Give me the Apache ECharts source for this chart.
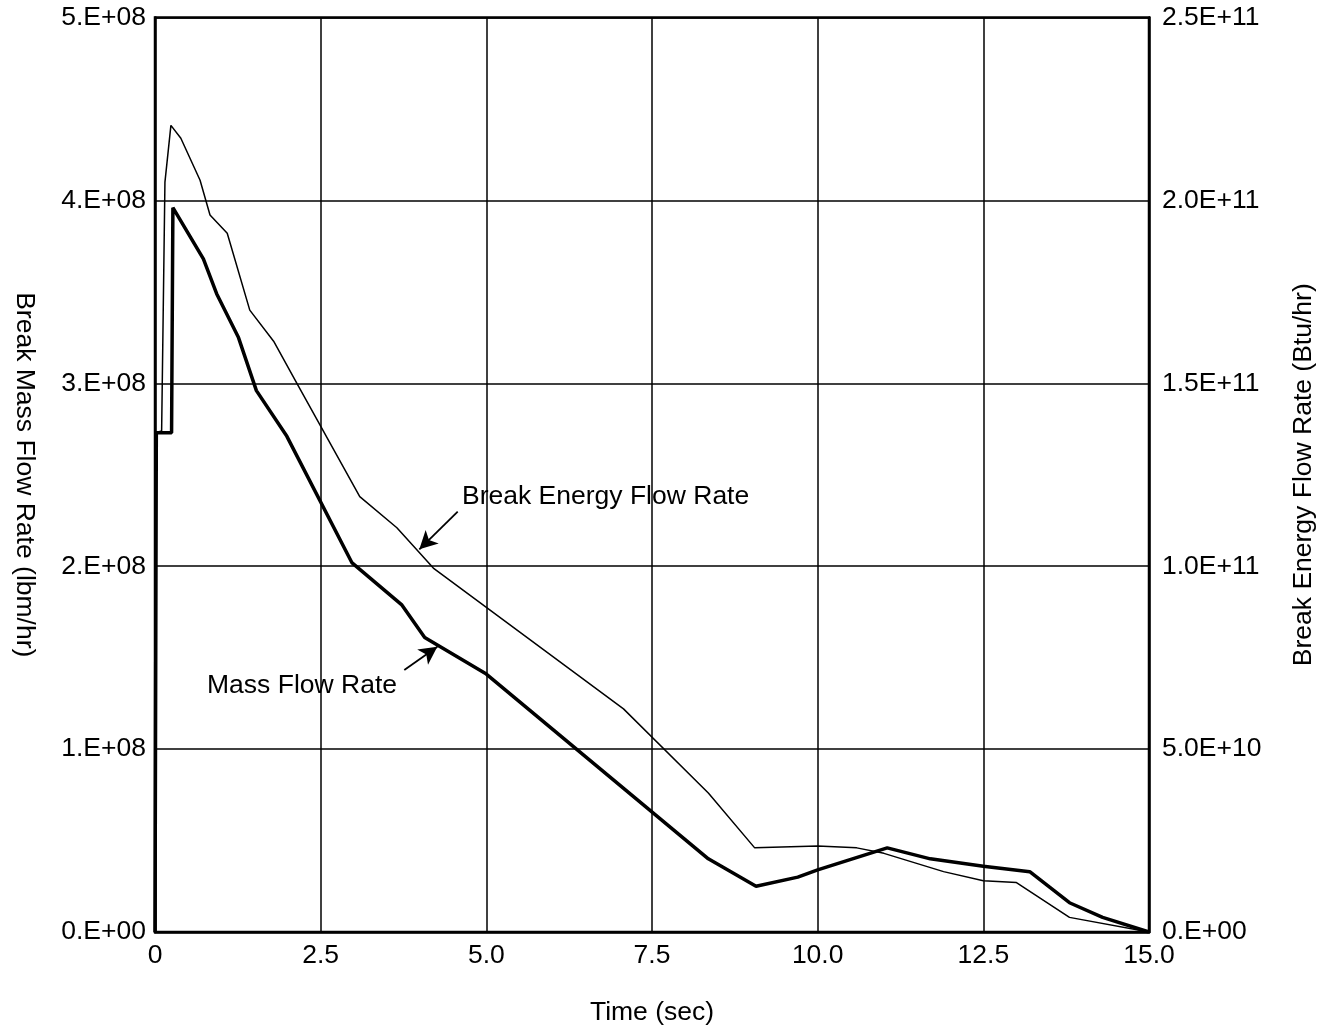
<!DOCTYPE html>
<html>
<head>
<meta charset="utf-8">
<script src="https://cdn.jsdelivr.net/npm/echarts@6/dist/echarts.min.js"></script>
<style>html,body{margin:0;padding:0;background:#fff;}#c{width:1334px;height:1036px;}</style>
</head>
<body>
<div id="c"></div>
<script>
// Time (sec) and Break Mass Flow Rate (lbm/hr)
const massTime = [0, 0.02, 0.25, 0.27, 0.73, 0.93, 1.26, 1.53, 1.99, 2.97, 3.72, 4.07, 5.0, 8.35, 9.07, 9.7, 10.0, 11.05, 11.7, 12.5, 13.2, 13.8, 14.3, 15.0];
const massFlow = [0, 2.73e8, 2.73e8, 3.96e8, 3.68e8, 3.49e8, 3.25e8, 2.96e8, 2.71e8, 2.02e8, 1.79e8, 1.61e8, 1.41e8, 0.40e8, 0.25e8, 0.30e8, 0.34e8, 0.46e8, 0.40e8, 0.36e8, 0.33e8, 0.16e8, 0.08e8, 0];
// Time (sec) and Break Energy Flow Rate (Btu/hr)
const energyTime = [0, 0.01, 0.1, 0.15, 0.24, 0.39, 0.68, 0.83, 1.09, 1.43, 1.79, 2.11, 3.09, 3.65, 4.2, 7.07, 8.35, 9.05, 10.0, 10.59, 11.0, 11.9, 12.5, 13.0, 13.8, 15.0];
const energyFlow = [0, 1.365e11, 1.37e11, 2.05e11, 2.205e11, 2.17e11, 2.055e11, 1.96e11, 1.91e11, 1.70e11, 1.615e11, 1.51e11, 1.19e11, 1.105e11, 0.995e11, 0.61e11, 0.38e11, 0.23e11, 0.235e11, 0.23e11, 0.215e11, 0.165e11, 0.14e11, 0.135e11, 0.04e11, 0];
// Annotations (data coordinates on the mass axis)
const annotations = [
  {text: 'Break Energy Flow Rate', at: [4.633, 2.381e8], from: [4.568, 2.298e8], to: [3.989, 2.092e8]},
  {text: 'Mass Flow Rate', at: [0.785, 1.345e8], from: [3.762, 1.432e8], to: [4.26, 1.56e8]}
];

const FONT = "'Liberation Sans', Arial, sans-serif";
const FS = 26.5;

function leftFmt(v) {
  if (v === 0) return '0.E+00';
  return Math.round(v / 1e8) + '.E+08';
}
function rightFmt(v) {
  if (v === 0) return '0.E+00';
  const e = Math.floor(Math.log10(v) + 1e-9);
  const m = v / Math.pow(10, e);
  return m.toFixed(1) + 'E+' + (e < 10 ? '0' + e : e);
}

const chart = echarts.init(document.getElementById('c'), null, {renderer: 'canvas'});
const option = {
  backgroundColor: '#fff',
  animation: false,
  textStyle: {fontFamily: FONT},
  grid: {left: 155, right: 185, top: 17.5, bottom: 104, show: true, borderColor: '#000', borderWidth: 2.5, containLabel: false},
  xAxis: {
    type: 'value', min: 0, max: 15, interval: 2.5,
    name: 'Time (sec)', nameLocation: 'middle', nameGap: 67,
    nameTextStyle: {fontFamily: FONT, fontSize: FS, color: '#000'},
    axisLine: {show: true, lineStyle: {color: '#000', width: 2.5}},
    axisTick: {show: false},
    axisLabel: {fontFamily: FONT, fontSize: FS, color: '#000', margin: 10,
      formatter: v => v === 0 ? '0' : v.toFixed(1)},
    splitLine: {show: true, lineStyle: {color: '#000', width: 1.5}}
  },
  yAxis: [{
    type: 'value', min: 0, max: 5e8, interval: 1e8, position: 'left',
    name: 'Break Mass Flow Rate (lbm/hr)', nameLocation: 'middle', nameGap: 117, nameRotate: -90,
    nameTextStyle: {fontFamily: FONT, fontSize: FS, color: '#000'},
    axisLine: {show: true, lineStyle: {color: '#000', width: 2.5}},
    axisTick: {show: false},
    axisLabel: {fontFamily: FONT, fontSize: FS, color: '#000', margin: 9, formatter: leftFmt},
    splitLine: {show: true, lineStyle: {color: '#000', width: 1.5}}
  }, {
    type: 'value', min: 0, max: 2.5e11, interval: 5e10, position: 'right',
    name: 'Break Energy Flow Rate (Btu/hr)', nameLocation: 'middle', nameGap: 141, nameRotate: 90,
    nameTextStyle: {fontFamily: FONT, fontSize: FS, color: '#000'},
    axisLine: {show: true, lineStyle: {color: '#000', width: 2.5}},
    axisTick: {show: false},
    axisLabel: {fontFamily: FONT, fontSize: FS, color: '#000', margin: 13, formatter: rightFmt},
    splitLine: {show: false}
  }],
  series: [{
    name: 'Break Energy Flow Rate', type: 'line', yAxisIndex: 1,
    data: energyTime.map((t, i) => [t, energyFlow[i]]),
    showSymbol: false, lineStyle: {color: '#000', width: 1.5}, z: 3
  }, {
    name: 'Mass Flow Rate', type: 'line', yAxisIndex: 0,
    data: massTime.map((t, i) => [t, massFlow[i]]),
    showSymbol: false, lineStyle: {color: '#000', width: 3.5}, z: 4,
    markLine: {
      silent: true, animation: false,
      symbol: ['none', 'arrow'], symbolSize: [14, 18],
      lineStyle: {color: '#000', width: 1.8, type: 'solid'},
      label: {show: false},
      data: annotations.map(a => [{coord: a.from}, {coord: a.to}])
    }
  }]
};
chart.setOption(option);

const graphics = annotations.map(a => {
  const p = chart.convertToPixel({xAxisIndex: 0, yAxisIndex: 0}, a.at);
  return {type: 'text', x: p[0], y: p[1], z: 10,
    style: {text: a.text, fill: '#000', font: FS + 'px ' + FONT, textAlign: 'left', textVerticalAlign: 'middle'}};
});
chart.setOption({graphic: graphics});
</script>
</body>
</html>
